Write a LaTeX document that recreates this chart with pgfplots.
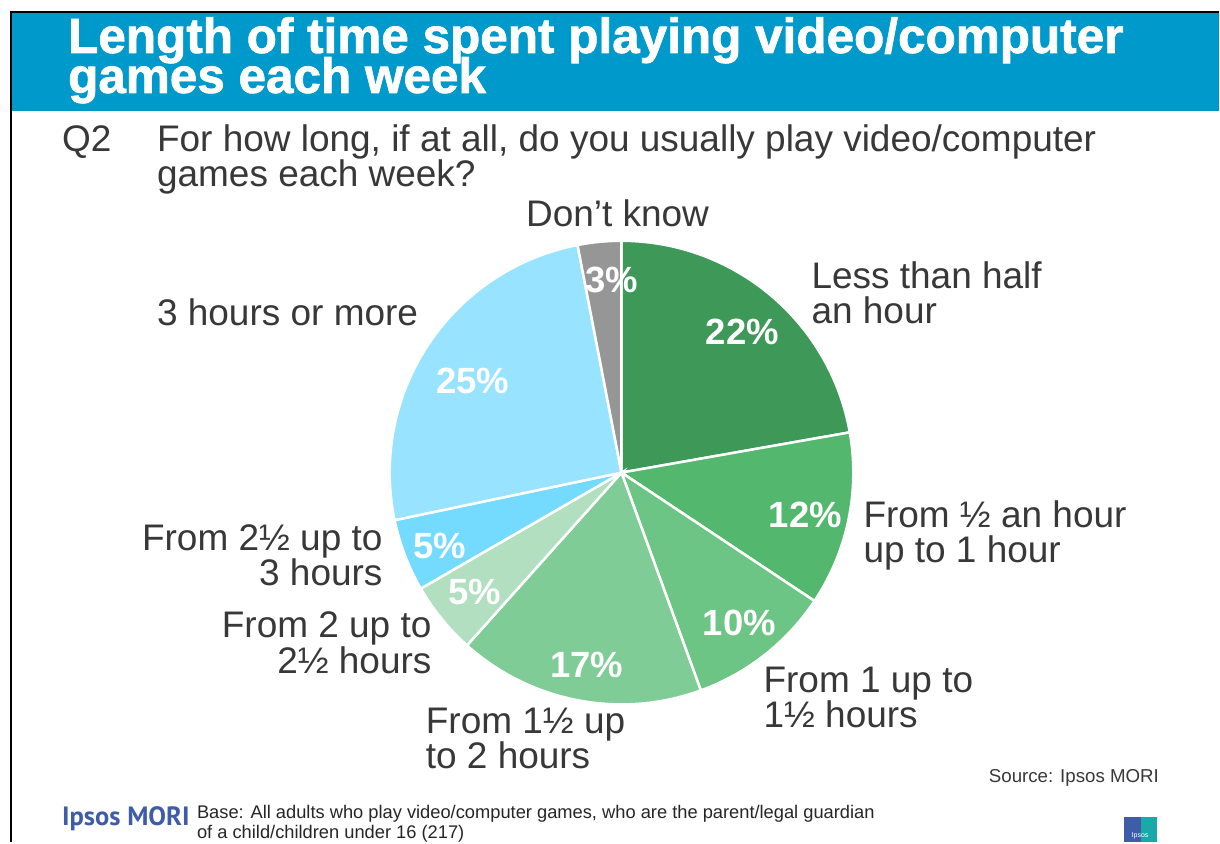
\documentclass[border=0pt]{standalone}
\usepackage{pgfplots}
\pgfplotsset{compat=1.18}
\usepackage{fontspec}
\setmainfont{Liberation Sans}
\newfontfamily\logofont{PT Sans}
\newfontfamily\titlefont[FakeBold=1.4]{Liberation Sans Bold}
\definecolor{band}{HTML}{0099CC}
\definecolor{txt}{HTML}{383838}
\definecolor{cA}{HTML}{3E9858}
\definecolor{cB}{HTML}{53B86E}
\definecolor{cC}{HTML}{6CC485}
\definecolor{cD}{HTML}{80CC97}
\definecolor{cE}{HTML}{B1DFBF}
\definecolor{cF}{HTML}{74DAFE}
\definecolor{cG}{HTML}{98E3FF}
\definecolor{cH}{HTML}{969696}
\definecolor{logoblue}{HTML}{3F5CA6}
\definecolor{logoteal}{HTML}{1AA8A8}
% values (%), clockwise from 12 o'clock
\def\vA{22}\def\vB{12}\def\vC{10}\def\vD{17}\def\vE{5}\def\vF{5}\def\vG{25}\def\vH{3}
\pgfmathsetmacro{\tot}{\vA+\vB+\vC+\vD+\vE+\vF+\vG+\vH}
\pgfmathsetmacro{\aO}{90}
\pgfmathsetmacro{\aA}{\aO-\vA/\tot*360}
\pgfmathsetmacro{\aB}{\aA-\vB/\tot*360}
\pgfmathsetmacro{\aC}{\aB-\vC/\tot*360}
\pgfmathsetmacro{\aD}{\aC-\vD/\tot*360}
\pgfmathsetmacro{\aE}{\aD-\vE/\tot*360}
\pgfmathsetmacro{\aF}{\aE-\vF/\tot*360}
\pgfmathsetmacro{\aG}{\aF-\vG/\tot*360}
\pgfmathsetmacro{\aH}{\aG-\vH/\tot*360}
\newcommand{\lab}{\color{txt}\fontsize{37}{35}\selectfont}
\newcommand{\pct}{\color{white}\bfseries\fontsize{36.5}{36}\selectfont}
\begin{document}
\begin{tikzpicture}
\begin{axis}[scale only axis, width=1220pt, height=843pt,
  xmin=0, xmax=1220, ymin=-843, ymax=0, hide axis, clip=false]
\fill[white] (axis cs:0,0) rectangle (axis cs:1220,-843);
% header band and frame
\fill[band] (axis cs:12,-13) rectangle (axis cs:1220,-111);
\draw[black, line width=2pt] (axis cs:11,-843) -- (axis cs:11,-12) -- (axis cs:1220,-12);
\node[anchor=base west, text=white, font=\titlefont\fontsize{49.5}{40}\selectfont, inner sep=0pt] at (axis cs:68,-53) {Length of time spent playing video/computer};
\node[anchor=base west, text=white, font=\titlefont\fontsize{49.5}{40}\selectfont, inner sep=0pt] at (axis cs:68,-93) {games each week};
% question
\node[anchor=base west, font=\lab, inner sep=0pt] at (axis cs:62,-152) {Q2};
\node[anchor=base west, font=\lab, inner sep=0pt] at (axis cs:157,-152) {For how long, if at all, do you usually play video/computer};
\node[anchor=base west, font=\lab, inner sep=0pt] at (axis cs:157,-187) {games each week?};
% pie slices
\addplot[fill=cA, draw=white, line width=2.5pt, domain=\aA:\aO, samples=80, variable=\t] ({622+232*cos(\t)},{-473+232*sin(\t)}) -- (axis cs:622,-473) -- cycle;
\addplot[fill=cB, draw=white, line width=2.5pt, domain=\aB:\aA, samples=60, variable=\t] ({622+232*cos(\t)},{-473+232*sin(\t)}) -- (axis cs:622,-473) -- cycle;
\addplot[fill=cC, draw=white, line width=2.5pt, domain=\aC:\aB, samples=60, variable=\t] ({622+232*cos(\t)},{-473+232*sin(\t)}) -- (axis cs:622,-473) -- cycle;
\addplot[fill=cD, draw=white, line width=2.5pt, domain=\aD:\aC, samples=60, variable=\t] ({622+232*cos(\t)},{-473+232*sin(\t)}) -- (axis cs:622,-473) -- cycle;
\addplot[fill=cE, draw=white, line width=2.5pt, domain=\aE:\aD, samples=30, variable=\t] ({622+232*cos(\t)},{-473+232*sin(\t)}) -- (axis cs:622,-473) -- cycle;
\addplot[fill=cF, draw=white, line width=2.5pt, domain=\aF:\aE, samples=30, variable=\t] ({622+232*cos(\t)},{-473+232*sin(\t)}) -- (axis cs:622,-473) -- cycle;
\addplot[fill=cG, draw=white, line width=2.5pt, domain=\aG:\aF, samples=80, variable=\t] ({622+232*cos(\t)},{-473+232*sin(\t)}) -- (axis cs:622,-473) -- cycle;
\addplot[fill=cH, draw=white, line width=2.5pt, domain=\aH:\aG, samples=20, variable=\t] ({622+232*cos(\t)},{-473+232*sin(\t)}) -- (axis cs:622,-473) -- cycle;
% percentage labels
\node[font=\pct] at (axis cs:743,-332) {22\%};
\node[font=\pct] at (axis cs:806,-515) {12\%};
\node[font=\pct] at (axis cs:740,-623) {10\%};
\node[font=\pct] at (axis cs:587,-665) {17\%};
\node[font=\pct] at (axis cs:475,-592) {5\%};
\node[font=\pct] at (axis cs:440,-546) {5\%};
\node[font=\pct] at (axis cs:473,-381) {25\%};
\node[font=\pct] at (axis cs:612,-280) {3\%};
% category labels
\node[anchor=base, font=\lab, inner sep=0pt] at (axis cs:618,-227) {Don’t know};
\node[anchor=base west, font=\lab, inner sep=0pt] at (axis cs:812,-289) {Less than half};
\node[anchor=base west, font=\lab, inner sep=0pt] at (axis cs:812,-324) {an hour};
\node[anchor=base west, font=\lab, inner sep=0pt] at (axis cs:864,-528) {From ½ an hour};
\node[anchor=base west, font=\lab, inner sep=0pt] at (axis cs:864,-563) {up to 1 hour};
\node[anchor=base west, font=\lab, inner sep=0pt] at (axis cs:764,-693) {From 1 up to};
\node[anchor=base west, font=\lab, inner sep=0pt] at (axis cs:764,-728) {1½ hours};
\node[anchor=base west, font=\lab, inner sep=0pt] at (axis cs:426,-734) {From 1½ up};
\node[anchor=base west, font=\lab, inner sep=0pt] at (axis cs:426,-769) {to 2 hours};
\node[anchor=base east, font=\lab, inner sep=0pt] at (axis cs:432,-638) {From 2 up to};
\node[anchor=base east, font=\lab, inner sep=0pt] at (axis cs:432,-674) {2½ hours};
\node[anchor=base east, font=\lab, inner sep=0pt] at (axis cs:383,-551) {From 2½ up to};
\node[anchor=base east, font=\lab, inner sep=0pt] at (axis cs:383,-586) {3 hours};
\node[anchor=base west, font=\lab, inner sep=0pt] at (axis cs:157,-326) {3 hours or more};
% footer
\node[anchor=base east, text=txt, font=\fontsize{18.7}{20}\selectfont, inner sep=0pt] at (axis cs:1160,-783) {Source: Ipsos MORI};
\node[anchor=base west, text=logoblue, font=\logofont\bfseries\fontsize{26.5}{26}\selectfont, inner sep=0pt] at (axis cs:62,-826) {Ipsos MORI};
\node[anchor=base west, text=black!85, font=\fontsize{18.3}{18}\selectfont, inner sep=0pt] at (axis cs:197,-819) {Base: All adults who play video/computer games, who are the parent/legal guardian};
\node[anchor=base west, text=black!85, font=\fontsize{18.3}{18}\selectfont, inner sep=0pt] at (axis cs:197,-839) {of a child/children under 16 (217)};
% small logo
\fill[logoblue] (axis cs:1125,-818) rectangle (axis cs:1142,-843);
\fill[logoteal] (axis cs:1142,-818) rectangle (axis cs:1158,-843);
\node[text=white, font=\fontsize{7}{7}\selectfont, inner sep=0pt] at (axis cs:1141,-837) {Ipsos};
\end{axis}
\end{tikzpicture}
\end{document}
